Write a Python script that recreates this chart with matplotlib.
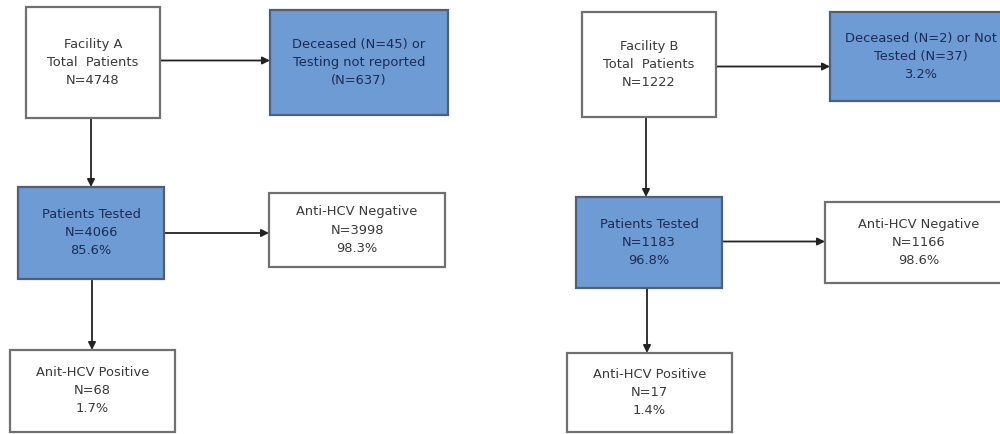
import matplotlib
matplotlib.use("Agg")
import matplotlib.pyplot as plt
from matplotlib.patches import Rectangle

# ---- data ----
facilities = ["Facility A", "Facility B"]
total_n = [4748, 1222]
excluded_text = ["Deceased (N=45) or\nTesting not reported\n(N=637)",
                 "Deceased (N=2) or Not\nTested (N=37)\n3.2%"]
tested_n = [4066, 1183]
tested_pct = ["85.6%", "96.8%"]
negative_n = [3998, 1166]
negative_pct = ["98.3%", "98.6%"]
positive_label = ["Anit-HCV Positive", "Anti-HCV Positive"]
positive_n = [68, 17]
positive_pct = ["1.7%", "1.4%"]

# ---- layout (pixel boxes: x0, y0, x1, y1) ----
layout = [
    dict(total=(26, 7, 160, 118), excl=(270, 10, 448, 115),
         tested=(18, 187, 164, 279), neg=(269, 193, 445, 267),
         pos=(10, 350, 175, 432), xc_down=91),
    dict(total=(582, 12, 716, 117), excl=(830, 12, 1012, 101),
         tested=(576, 197, 722, 288), neg=(825, 202, 1012, 283),
         pos=(567, 353, 732, 432), xc_down=646),
]

BLUE = "#6f9bd4"
BLUE_EDGE = "#4f5f78"
GRAY_EDGE = "#707070"
NAVY = "#1c2b55"
DARK = "#3a3a3a"

fig = plt.figure(figsize=(10, 4.34), dpi=100)
ax = fig.add_axes([0, 0, 1, 1])
ax.set_xlim(0, 1000)
ax.set_ylim(434, 0)
ax.axis("off")

FS = 9.4

def box(b, text, blue=False):
    x0, y0, x1, y1 = b
    ax.add_patch(Rectangle((x0, y0), x1 - x0, y1 - y0,
                           facecolor=BLUE if blue else "white",
                           edgecolor=BLUE_EDGE if blue else GRAY_EDGE,
                           linewidth=1.6, zorder=2))
    ax.text((x0 + x1) / 2, (y0 + y1) / 2, text, ha="center", va="center",
            fontsize=FS, color=NAVY if blue else DARK,
            linespacing=1.5, zorder=3, family="DejaVu Sans")

def arrow(p0, p1):
    ax.annotate("", xy=p1, xytext=p0,
                arrowprops=dict(arrowstyle="-|>", color="#222222", lw=1.3,
                                mutation_scale=11, shrinkA=0, shrinkB=0),
                zorder=1)

for i, L in enumerate(layout):
    box(L["total"], f"{facilities[i]}\nTotal  Patients\nN={total_n[i]}")
    box(L["excl"], excluded_text[i], blue=True)
    box(L["tested"], f"Patients Tested\nN={tested_n[i]}\n{tested_pct[i]}", blue=True)
    box(L["neg"], f"Anti-HCV Negative\nN={negative_n[i]}\n{negative_pct[i]}")
    box(L["pos"], f"{positive_label[i]}\nN={positive_n[i]}\n{positive_pct[i]}")

    t, e, te, n, p = L["total"], L["excl"], L["tested"], L["neg"], L["pos"]
    yc = (t[1] + t[3]) / 2 + (2 if i else -2)
    arrow((t[2], yc), (e[0], yc))
    x = L["xc_down"]
    arrow((x, t[3]), (x, te[1]))
    yc2 = (te[1] + te[3]) / 2 + (0 if i == 0 else -1)
    arrow((te[2], yc2), (n[0], yc2))
    arrow((x + 1, te[3]), (x + 1, p[1]))

fig.savefig("out.png", dpi=100)
